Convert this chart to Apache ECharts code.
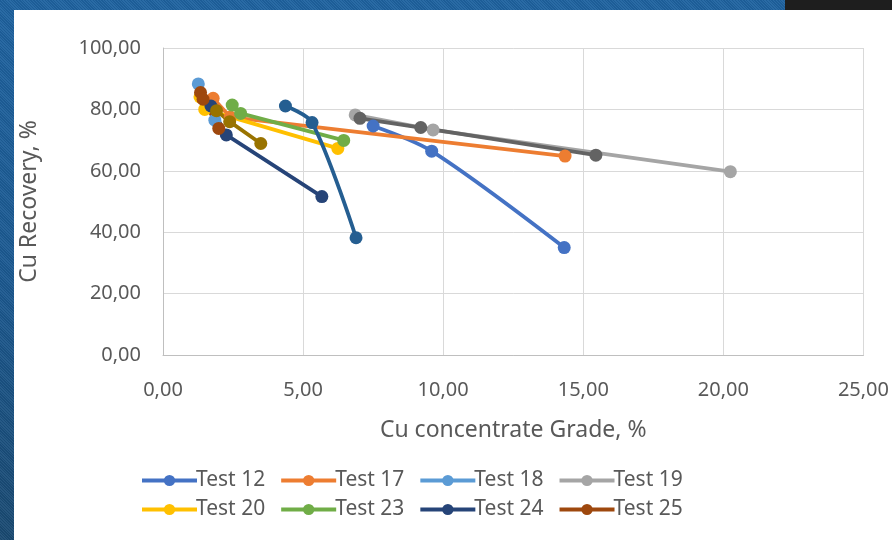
<!DOCTYPE html>
<html>
<head>
<meta charset="utf-8">
<script src="https://cdn.jsdelivr.net/npm/echarts@6/dist/echarts.min.js"></script>
<style>
  html, body { margin: 0; padding: 0; width: 892px; height: 540px; overflow: hidden; }
  body {
    background:
      repeating-linear-gradient(45deg, rgba(255,255,255,0.05) 0 1px, rgba(0,0,0,0.06) 1px 2px),
      linear-gradient(to bottom, #1f63a0 0%, #1c5a92 50%, #1a4a72 100%);
    position: relative;
  }
  #sheet { position: absolute; left: 14px; top: 10px; right: 0; bottom: 0; background: #ffffff; }
  #corner { position: absolute; left: 785px; top: 0; width: 107px; height: 10px; background: #1e1e1e; }
  #chart { position: absolute; left: 0; top: 0; width: 892px; height: 540px; }
</style>
</head>
<body>
<div id="sheet"></div>
<div id="corner"></div>
<div id="chart"></div>
<script>
// Cu concentrate grade (%) and Cu recovery (%) per flotation test
const test12Grade = [7.50, 9.59, 14.32];
const test12Rec   = [74.6, 66.4, 35.0];
const test17Grade = [1.79, 2.40, 14.35];
const test17Rec   = [83.6, 77.5, 64.8];
const test18Grade = [1.26, 1.85];
const test18Rec   = [88.3, 76.5];
const test19Grade = [6.86, 9.64, 20.25];
const test19Rec   = [78.2, 73.3, 59.7];
const test20Grade = [1.32, 1.49, 6.24];
const test20Rec   = [84.1, 80.0, 67.3];
const test23Grade = [2.47, 2.77, 6.45];
const test23Rec   = [81.4, 78.7, 69.9];
const test24Grade = [1.71, 2.26, 5.67];
const test24Rec   = [81.1, 71.7, 51.6];
const test25Grade = [1.34, 1.43, 1.99];
const test25Rec   = [85.5, 83.3, 73.8];
// three further runs plotted without legend entries
const run9Grade  = [7.03, 9.20, 15.45];
const run9Rec    = [77.1, 74.1, 65.1];
const run10Grade = [1.91, 2.38, 3.49];
const run10Rec   = [79.6, 76.0, 68.9];
const run11Grade = [4.37, 5.32, 6.89];
const run11Rec   = [81.1, 75.7, 38.2];

const legendRow1 = ['Test 12', 'Test 17', 'Test 18', 'Test 19'];
const legendRow2 = ['Test 20', 'Test 23', 'Test 24', 'Test 25'];

const xTicks = { min: 0, max: 25, step: 5 };
const yTicks = { min: 0, max: 100, step: 20 };

const FONT = '"Noto Sans", "Open Sans", sans-serif';
const TEXT = '#595959';

function pairs(xs, ys) { return xs.map((x, i) => [x, ys[i]]); }
function comma(v) { return v.toFixed(2).replace('.', ','); }

function line(name, xs, ys, color, smooth) {
  return {
    name: name,
    type: 'line',
    data: pairs(xs, ys),
    smooth: smooth ? 0.3 : false,
    symbol: 'circle',
    symbolSize: 13,
    showSymbol: true,
    lineStyle: { color: color, width: 3.8 },
    itemStyle: { color: color },
    emphasis: { disabled: true },
    animation: false
  };
}

const legendBase = {
  left: 140,
  padding: 0,
  itemWidth: 55,
  itemHeight: 14,
  itemGap: 14,
  lineStyle: { width: 4 },
  textStyle: { color: TEXT, fontSize: 21, fontFamily: FONT, width: 72, padding: [0, 0, 0, -6] },
  selectedMode: false
};

const chart = echarts.init(document.getElementById('chart'), null, { renderer: 'canvas' });
chart.setOption({
  backgroundColor: 'transparent',
  animation: false,
  grid: { left: 163, right: 26, top: 48, bottom: 185, containLabel: false },
  legend: [
    Object.assign({}, legendBase, { top: 470, data: legendRow1 }),
    Object.assign({}, legendBase, { top: 499, data: legendRow2 })
  ],
  xAxis: {
    type: 'value',
    min: xTicks.min, max: xTicks.max, interval: xTicks.step,
    name: 'Cu concentrate Grade, %',
    nameLocation: 'middle',
    nameGap: 64,
    nameTextStyle: { color: TEXT, fontSize: 23, fontFamily: FONT },
    axisLine: { show: true, lineStyle: { color: '#BFBFBF', width: 1 } },
    axisTick: { show: false },
    axisLabel: { color: TEXT, fontSize: 20, fontFamily: FONT, margin: 25, formatter: comma },
    splitLine: { show: true, lineStyle: { color: '#D9D9D9', width: 1 } }
  },
  yAxis: {
    type: 'value',
    min: yTicks.min, max: yTicks.max, interval: yTicks.step,
    name: 'Cu Recovery, %',
    nameLocation: 'middle',
    nameGap: 122,
    nameTextStyle: { color: TEXT, fontSize: 23, fontFamily: FONT },
    axisLine: { show: true, lineStyle: { color: '#BFBFBF', width: 1 } },
    axisTick: { show: false },
    axisLabel: { color: TEXT, fontSize: 20, fontFamily: FONT, margin: 22, formatter: comma },
    splitLine: { show: true, lineStyle: { color: '#D9D9D9', width: 1 } }
  },
  series: [
    line('Test 12', test12Grade, test12Rec, '#4472C4', true),
    line('Test 17', test17Grade, test17Rec, '#ED7D31', false),
    line('Test 18', test18Grade, test18Rec, '#5B9BD5', false),
    line('Test 19', test19Grade, test19Rec, '#A5A5A5', false),
    line('Test 20', test20Grade, test20Rec, '#FFC000', false),
    line('Test 23', test23Grade, test23Rec, '#70AD47', false),
    line('Test 24', test24Grade, test24Rec, '#264478', false),
    line('Test 25', test25Grade, test25Rec, '#9E480E', false),
    line('Run 9',  run9Grade,  run9Rec,  '#636363', false),
    line('Run 10', run10Grade, run10Rec, '#997300', false),
    line('Run 11', run11Grade, run11Rec, '#255E91', true)
  ]
});
</script>
</body>
</html>
